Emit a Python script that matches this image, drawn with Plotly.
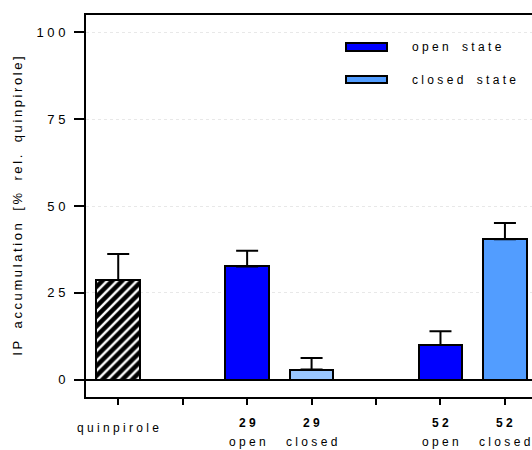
import plotly.graph_objects as go

# ---- data ----
compounds = ["quinpirole", "29", "29", "52", "52"]
states = ["", "open", "closed", "open", "closed"]
positions = [0, 2, 3, 5, 6]
values = [28.7, 32.6, 2.9, 10.0, 40.4]
errors = [7.5, 4.5, 3.3, 3.9, 4.7]
bar_colors = ["#000000", "#0000ff", "#99c6ff", "#0000ff", "#529dff"]
y_ticks = [0, 25, 50, 75, 100]
legend_names = ["open state", "closed state"]
legend_colors = ["#0000ff", "#529dff"]
y_title = "IP accumulation [% rel. quinpirole]"

FONT = "Liberation Sans, Arial, sans-serif"
NB = "\u00a0"


def spaced(s, sep=NB):
    return sep.join(ch if ch != " " else NB * 2 for ch in s)


fig = go.Figure()

for i, (p, v, e, c) in enumerate(zip(positions, values, errors, bar_colors)):
    marker = dict(color=c, line=dict(color="black", width=2))
    if i == 0:
        marker["pattern"] = dict(shape="/", fgcolor="white", bgcolor="black",
                                 size=7, solidity=0.35, fillmode="replace")
    fig.add_trace(go.Bar(
        x=[p], y=[v], width=0.675, marker=marker, showlegend=False,
        error_y=dict(type="data", array=[e], arrayminus=[0], symmetric=False,
                     color="black", thickness=2, width=11),
    ))

# plot area spans window rows 15..397 and columns 86..532
PH = 382.0
PW = 446.0


def py(pix):  # pixel row -> paper y
    return (397 - pix) / PH


txt_font = dict(family=FONT, size=12, color="black")
for p, comp, st in zip(positions, compounds, states):
    if st == "":
        fig.add_annotation(x=p, y=py(428), xref="x", yref="paper", text=spaced(comp),
                           xanchor="center", yanchor="middle", showarrow=False, font=txt_font)
    else:
        fig.add_annotation(x=p, y=py(423), xref="x", yref="paper", text="<b>" + spaced(comp) + "</b>",
                           xanchor="center", yanchor="middle", showarrow=False, font=txt_font)
        fig.add_annotation(x=p, y=py(442), xref="x", yref="paper", text=spaced(st),
                           xanchor="center", yanchor="middle", showarrow=False, font=txt_font)

# legend drawn manually
leg_rows = [(43, 51), (76, 83)]
for (top, bot), name, col in zip(leg_rows, legend_names, legend_colors):
    fig.add_shape(type="rect", xref="paper", yref="paper",
                  x0=(346 - 86) / PW, x1=(387 - 86) / PW, y0=py(bot), y1=py(top),
                  fillcolor=col, line=dict(color="black", width=2))
    fig.add_annotation(xref="paper", yref="paper", x=(410 - 86) / PW, y=py((top + bot) / 2),
                       text=spaced(name), xanchor="left", yanchor="middle",
                       showarrow=False, font=txt_font)

fig.update_layout(
    width=532, height=450,
    margin=dict(l=86, r=0, t=15, b=53),
    plot_bgcolor="white", paper_bgcolor="white",
    font=dict(family=FONT, size=13, color="black"),
    bargap=0,
    hovermode=False,
    xaxis=dict(range=[-0.5, 6.42], tickvals=list(range(7)), showticklabels=False,
               ticks="outside", ticklen=6, tickwidth=2, tickcolor="black",
               showline=True, linecolor="black", linewidth=2, mirror=True,
               showgrid=False, zeroline=False, fixedrange=True),
    yaxis=dict(range=[-5, 105], tickvals=y_ticks, ticktext=[spaced(str(t)) for t in y_ticks],
               ticks="outside", ticklen=10, tickwidth=2, tickcolor="black",
               showline=True, linecolor="black", linewidth=2,
               showgrid=True, gridcolor="#e8e8e8", griddash="dot", gridwidth=1,
               zeroline=True, zerolinecolor="black", zerolinewidth=2,
               ticklabelstandoff=6, fixedrange=True,
               title=dict(text=spaced(y_title, "\u2009"), font=dict(family=FONT, size=13), standoff=11)),
)

fig.write_html(
    "out.html",
    config={"displayModeBar": False},
    post_script="document.body.style.margin='0';document.body.style.overflow='hidden';",
)
